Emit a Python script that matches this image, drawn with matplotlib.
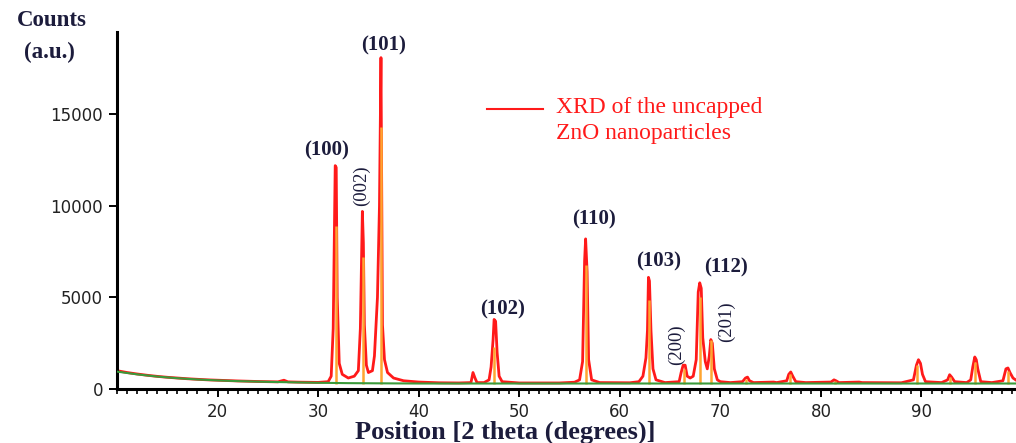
import matplotlib
matplotlib.use("Agg")
import matplotlib.pyplot as plt
from matplotlib.ticker import MultipleLocator

# ---- data ----
two_theta = [10.0, 11, 12, 13, 14, 15, 16, 17, 18, 19, 20, 22, 24, 26, 26.6, 27, 28, 30,
             31.0, 31.3, 31.5, 31.7, 31.8, 31.9, 32.1, 32.4, 33.0, 33.6, 34.0, 34.2, 34.4,
             34.5, 34.6, 34.8, 35.0, 35.4, 35.6, 35.9, 36.1, 36.25, 36.4, 36.6, 36.9, 37.5,
             38.5, 40, 42, 44, 45.2, 45.4, 45.6, 45.8, 46.5, 47.0, 47.2, 47.4, 47.5, 47.65,
             47.8, 48.0, 48.3, 50, 54, 55.5, 56.0, 56.3, 56.5, 56.6, 56.75, 56.9, 57.2, 58,
             61, 61.9, 62.3, 62.6, 62.75, 62.85, 62.95, 63.1, 63.3, 63.6, 64.5, 65.9, 66.1,
             66.3, 66.5, 66.7, 67.0, 67.3, 67.6, 67.8, 67.95, 68.1, 68.25, 68.5, 68.7, 68.9,
             69.05, 69.2, 69.4, 69.7, 70, 71, 72.2, 72.5, 72.7, 72.9, 73.3, 75.3, 75.6, 76.6,
             76.8, 77.0, 77.2, 77.5, 78.5, 81.0, 81.3, 81.5, 81.8, 83.8, 84.1, 88, 89.2, 89.5,
             89.7, 89.9, 90.1, 90.4, 92, 92.6, 92.8, 93.0, 93.3, 94.5, 94.9, 95.1, 95.3, 95.45,
             95.6, 95.9, 97, 98.1, 98.4, 98.6, 98.8, 99.1, 99.5]
counts = [1000, 900, 820, 750, 690, 640, 600, 560, 530, 500, 480, 440, 410, 390, 480, 390, 375, 360,
          400, 700, 3300, 12200, 12100, 5000, 1400, 800, 600, 700, 1000, 3300, 9700,
          8000, 3500, 1300, 900, 1000, 1800, 5000, 10000, 18100, 3500, 1600, 900, 600,
          450, 380, 340, 330, 350, 900, 600, 350, 350, 500, 1200, 2700, 3800, 3700,
          2000, 700, 400, 330, 330, 370, 500, 1500, 7000, 8200, 6400, 1600, 500, 350,
          340, 400, 700, 1700, 3200, 6100, 5900, 3200, 1100, 500, 350, 400, 900,
          1300, 1300, 700, 600, 700, 1600, 5300, 5800, 5500, 2800, 1500, 1100, 1800,
          2700, 2500, 1100, 500, 400, 350, 400, 600, 650, 450, 350, 380, 350, 450,
          800, 930, 700, 400, 350, 380, 500, 450, 350, 380, 350, 340, 500, 1300,
          1600, 1400, 800, 400, 350, 500, 780, 650, 400, 350, 500, 1200, 1750, 1600,
          1100, 400, 350, 450, 1100, 1150, 900, 600, 450]

bg_theta = [10, 12, 14, 16, 18, 20, 22, 25, 28, 30, 33, 36, 40, 50, 60, 70, 80, 90, 99.5]
bg_counts = [950, 800, 680, 590, 520, 470, 430, 390, 360, 340, 320, 310, 300, 300, 300, 300, 300, 300, 300]

stick_theta = [31.77, 34.42, 36.25, 47.54, 56.60, 62.86, 66.38, 67.96, 69.10, 72.56, 76.95,
               81.37, 89.6, 92.8, 95.3, 98.6]
stick_height = [8900, 7200, 14300, 2300, 6760, 4850, 1100, 5000, 2670, 550, 800,
                450, 1300, 650, 1500, 1000]

hkl_labels = ["(100)", "(101)", "(002)", "(102)", "(110)", "(103)", "(200)", "(112)", "(201)"]
hkl_x = [30.87, 36.52, 34.36, 48.37, 57.42, 63.87, 65.66, 70.53, 70.63]
hkl_y = [13030, 18760, 11120, 4360, 9270, 6980, 2400, 6650, 3650]
hkl_rot = [0, 0, 90, 0, 0, 0, 90, 0, 90]

x_ticks = [20, 30, 40, 50, 60, 70, 80, 90]
y_ticks = [0, 5000, 10000, 15000]

# ---- figure ----
fig = plt.figure(figsize=(10.16, 4.43), dpi=100)
ax = fig.add_axes([117/1016, 1-389/443, 1-117/1016, (389-32)/443])

ax.plot(two_theta, counts, color="#ff1a1a", lw=2.0, zorder=2)
ax.vlines(stick_theta, 300, stick_height, color="#ffa530", lw=1.8, zorder=3)
ax.plot(bg_theta, bg_counts, color="#3a9a3a", lw=1.5, zorder=4)

ax.set_xlim(10, 99.4)
ax.set_ylim(0, 19500)
ax.set_xticks(x_ticks)
ax.set_yticks(y_ticks)
ax.xaxis.set_minor_locator(MultipleLocator(1))
for s in ["top", "right"]:
    ax.spines[s].set_visible(False)
for s in ["left", "bottom"]:
    ax.spines[s].set_linewidth(2.2)
ax.tick_params(axis="both", which="major", direction="out", length=6, width=1.4,
               labelsize=12, colors="black", labelcolor="#222222")
ax.tick_params(axis="x", which="minor", direction="out", length=3.5, width=1.2)
for lab in ax.get_xticklabels() + ax.get_yticklabels():
    lab.set_family("DejaVu Sans")
ax.tick_params(axis="x", pad=4)
ax.tick_params(axis="y", pad=4)

serif = ["Liberation Serif", "DejaVu Serif"]
lab_col = "#1c1c3c"
for t, x, y, r in zip(hkl_labels, hkl_x, hkl_y, hkl_rot):
    ax.text(x, y, t, rotation=r, ha="center", va="center",
            fontsize=15 if r == 0 else 13.5,
            family=serif, color=lab_col, fontweight="bold" if r == 0 else "normal")

# legend
fig.add_artist(plt.Line2D([487/1016, 543/1016], [1-109/443, 1-109/443], color="#ff1a1a", lw=1.5))
fig.text(556/1016, 1-108/443, "XRD of the uncapped", color="#ff1a1a", family=serif,
         fontsize=17, va="center", ha="left")
fig.text(556/1016, 1-133/443, "ZnO nanoparticles", color="#ff1a1a", family=serif,
         fontsize=17, va="center", ha="left")

fig.text(52/1016, 1-20/443, "Counts", color=lab_col, family=serif, fontsize=16.5,
         fontweight="bold", ha="center", va="center")
fig.text(49/1016, 1-52/443, "(a.u.)", color=lab_col, family=serif, fontsize=16.5,
         fontweight="bold", ha="center", va="center")
fig.text(505/1016, 1-432/443, "Position [2 theta (degrees)]", color=lab_col, family=serif,
         fontsize=19, fontweight="bold", ha="center", va="center")

fig.savefig("out.png", dpi=100)
